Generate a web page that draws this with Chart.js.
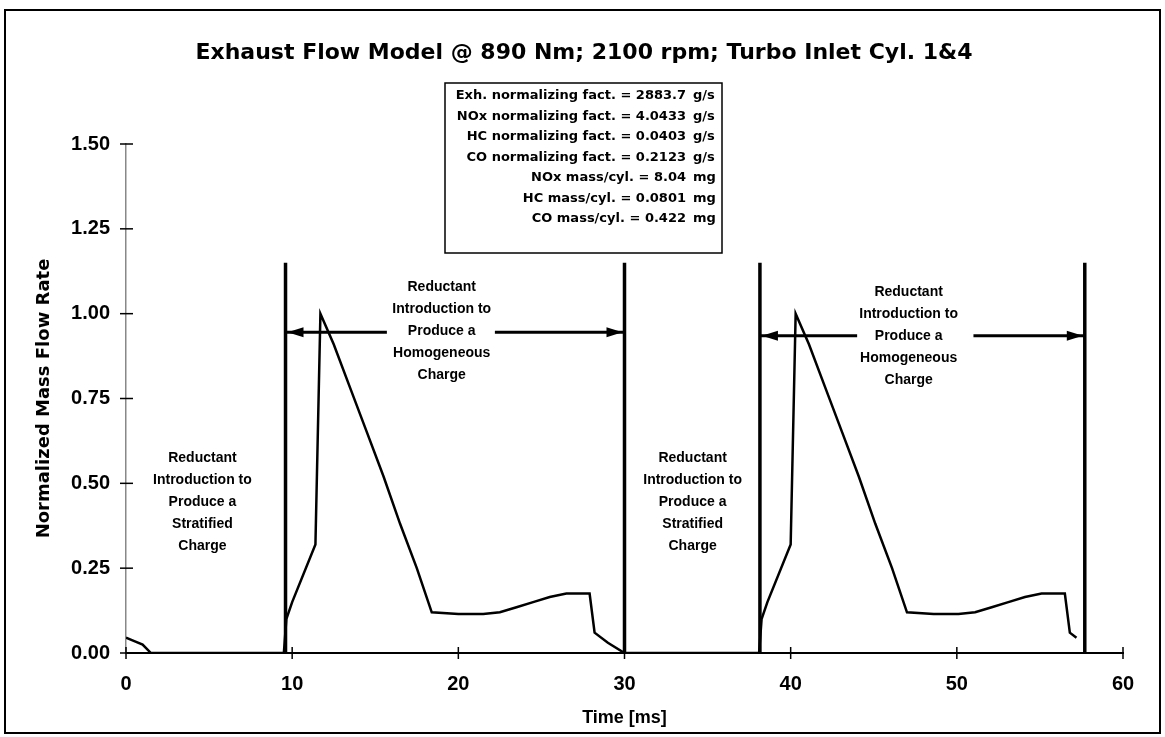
<!DOCTYPE html>
<html>
<head>
<meta charset="utf-8">
<script src="https://cdn.jsdelivr.net/npm/chart.js@4.4.1/dist/chart.umd.min.js"></script>
<style>
  html, body { margin: 0; padding: 0; background: #fff; }
  canvas { display: block; }
</style>
</head>
<body>
<canvas id="flowChart" width="1165" height="737"></canvas>
<script>
// Normalized exhaust mass flow, two cylinder events
const timeMs = [
  0, 0.5, 1.0, 1.5, 9.5, 9.65, 10.0, 11.4, 11.7, 12.5, 13.5, 14.5, 15.5, 16.5, 17.5, 18.4,
  20.0, 21.5, 22.5, 23.5, 24.5, 25.5, 26.5, 27.9, 28.2, 29.0, 30.0,
  38.1, 38.25, 38.6, 40.0, 40.3, 41.1, 42.1, 43.1, 44.1, 45.1, 46.1, 47.0,
  48.6, 50.1, 51.1, 52.1, 53.1, 54.1, 55.1, 56.5, 56.8, 57.2
];
const flowRate = [
  0.045, 0.035, 0.025, 0.0, 0.0, 0.10, 0.15, 0.32, 1.0, 0.91, 0.78, 0.65, 0.52, 0.38, 0.25, 0.12,
  0.115, 0.115, 0.12, 0.135, 0.15, 0.165, 0.175, 0.175, 0.06, 0.03, 0.0,
  0.0, 0.10, 0.15, 0.32, 1.0, 0.91, 0.78, 0.65, 0.52, 0.38, 0.25, 0.12,
  0.115, 0.115, 0.12, 0.135, 0.15, 0.165, 0.175, 0.175, 0.06, 0.045
];

// vertical event markers
const markerTimes = [9.6, 30.0, 38.15, 57.7];
const markerTop = 1.15;

// double arrows: [start, gapStart, gapEnd, end]
const arrowSpans = [[9.6, 15.7, 22.2, 30.0], [38.15, 44.0, 51.0, 57.7]];
const arrowLevels = [0.945, 0.935];

// axis ticks
const xTicks = [0, 10, 20, 30, 40, 50, 60];
const yTicks = [0, 0.25, 0.5, 0.75, 1.0, 1.25, 1.5];

const chartTitle = 'Exhaust Flow Model @ 890 Nm; 2100 rpm; Turbo Inlet Cyl. 1&4';
const xTitle = 'Time [ms]';
const yTitle = 'Normalized Mass Flow Rate';

const infoLabels = [
  'Exh. normalizing fact. = 2883.7',
  'NOx normalizing fact. = 4.0433',
  'HC normalizing fact. = 0.0403',
  'CO normalizing fact. = 0.2123',
  'NOx mass/cyl. = 8.04',
  'HC mass/cyl. = 0.0801',
  'CO mass/cyl. = 0.422'
];
const infoUnits = ['g/s', 'g/s', 'g/s', 'g/s', 'mg', 'mg', 'mg'];

const stratLines = ['Reductant', 'Introduction to', 'Produce a', 'Stratified', 'Charge'];
const homogLines = ['Reductant', 'Introduction to', 'Produce a', 'Homogeneous', 'Charge'];
const stratNoteTimes = [4.6, 34.1];
const homogNoteTimes = [19.0, 47.1];
const stratNoteLevel = 0.574;
const homogNoteLevels = [1.078, 1.062];

const FONT = "'Liberation Sans', Arial, Helvetica, sans-serif";
const WIDE = "'DejaVu Sans', Verdana, sans-serif";

// build datasets
const datasets = [{
  data: timeMs.map((t, i) => ({ x: t, y: flowRate[i] })),
  borderColor: '#000',
  borderWidth: 2.5,
  pointRadius: 0,
  tension: 0
}];

markerTimes.forEach(t => {
  datasets.push({
    data: [{ x: t, y: 0 }, { x: t, y: markerTop }],
    borderColor: '#000',
    borderWidth: 3.5,
    pointRadius: 0
  });
});

arrowSpans.forEach((s, i) => {
  datasets.push({
    data: [{ x: s[0], y: arrowLevels[i] }, { x: s[1], y: arrowLevels[i] }],
    borderColor: '#000', borderWidth: 3, pointRadius: 0
  });
  datasets.push({
    data: [{ x: s[2], y: arrowLevels[i] }, { x: s[3], y: arrowLevels[i] }],
    borderColor: '#000', borderWidth: 3, pointRadius: 0
  });
});

// extra drawing: frame, title, tick crosses, arrowheads, notes, info box
const decorPlugin = {
  id: 'decor',
  afterDraw(chart) {
    const ctx = chart.ctx;
    const xs = chart.scales.x;
    const ys = chart.scales.y;
    ctx.save();

    // outer frame
    ctx.strokeStyle = '#000';
    ctx.lineWidth = 2;
    ctx.strokeRect(5, 10, 1155, 723);

    // title
    ctx.fillStyle = '#000';
    ctx.font = 'bold 22px ' + WIDE;
    ctx.textAlign = 'center';
    ctx.textBaseline = 'middle';
    ctx.fillText(chartTitle, 584, 53);

    // crossing tick marks
    ctx.lineWidth = 1.5;
    const x0 = xs.getPixelForValue(0);
    yTicks.forEach(v => {
      const py = ys.getPixelForValue(v);
      ctx.beginPath();
      ctx.moveTo(x0 - 6, py);
      ctx.lineTo(x0 + 7, py);
      ctx.stroke();
    });
    const y0 = ys.getPixelForValue(0);
    xTicks.forEach(v => {
      const px = xs.getPixelForValue(v);
      ctx.beginPath();
      ctx.moveTo(px, y0 - 6);
      ctx.lineTo(px, y0 + 6);
      ctx.stroke();
    });

    // arrowheads
    arrowSpans.forEach((s, i) => {
      const py = ys.getPixelForValue(arrowLevels[i]);
      const left = xs.getPixelForValue(s[0]) + 2;
      const right = xs.getPixelForValue(s[3]) - 2;
      ctx.beginPath();
      ctx.moveTo(left, py);
      ctx.lineTo(left + 16, py - 5);
      ctx.lineTo(left + 16, py + 5);
      ctx.closePath();
      ctx.fill();
      ctx.beginPath();
      ctx.moveTo(right, py);
      ctx.lineTo(right - 16, py - 5);
      ctx.lineTo(right - 16, py + 5);
      ctx.closePath();
      ctx.fill();
    });

    // notes
    ctx.font = 'bold 14px ' + FONT;
    ctx.textAlign = 'center';
    const drawNote = (lines, t, level) => {
      const px = xs.getPixelForValue(t);
      const py = ys.getPixelForValue(level);
      lines.forEach((ln, k) => ctx.fillText(ln, px, py + k * 22));
    };
    stratNoteTimes.forEach(t => drawNote(stratLines, t, stratNoteLevel));
    homogNoteTimes.forEach((t, i) => drawNote(homogLines, t, homogNoteLevels[i]));

    // info box
    ctx.fillStyle = '#fff';
    ctx.fillRect(445, 83, 277, 170);
    ctx.strokeStyle = '#000';
    ctx.lineWidth = 1.5;
    ctx.strokeRect(445, 83, 277, 170);
    ctx.fillStyle = '#000';
    ctx.font = 'bold 13px ' + WIDE;
    infoLabels.forEach((txt, k) => {
      const py = 96 + k * 20.5;
      ctx.textAlign = 'right';
      ctx.fillText(txt, 686, py);
      ctx.textAlign = 'left';
      ctx.fillText(infoUnits[k], 693, py);
    });

    ctx.restore();
  }
};

new Chart(document.getElementById('flowChart'), {
  type: 'line',
  data: { datasets },
  options: {
    responsive: false,
    animation: false,
    devicePixelRatio: 1,
    layout: { padding: { top: 144, right: 42, left: 0, bottom: 0 } },
    plugins: {
      legend: { display: false },
      tooltip: { enabled: false }
    },
    scales: {
      x: {
        type: 'linear',
        min: 0,
        max: 60,
        afterFit: s => { s.height = 84; },
        afterBuildTicks: s => { s.ticks = xTicks.map(v => ({ value: v })); },
        grid: { display: false },
        border: { display: true, color: '#000', width: 2 },
        ticks: {
          color: '#000',
          font: { family: FONT, size: 20, weight: 'bold' },
          padding: 11
        },
        title: {
          display: true,
          text: xTitle,
          color: '#000',
          font: { family: FONT, size: 18, weight: 'bold' },
          padding: { top: 0, bottom: 8 }
        }
      },
      y: {
        min: 0,
        max: 1.5,
        afterFit: s => { s.width = 126; },
        afterBuildTicks: s => { s.ticks = yTicks.map(v => ({ value: v })); },
        grid: { display: false },
        border: { display: true, color: '#888', width: 1.5, dash: [2, 5] },
        ticks: {
          color: '#000',
          font: { family: FONT, size: 20, weight: 'bold' },
          padding: 8,
          callback: v => v.toFixed(2)
        },
        title: {
          display: true,
          text: yTitle,
          color: '#000',
          font: { family: WIDE, size: 18, weight: 'bold' },
          padding: { top: 34, bottom: 0 }
        }
      }
    }
  },
  plugins: [decorPlugin]
});
</script>
</body>
</html>
